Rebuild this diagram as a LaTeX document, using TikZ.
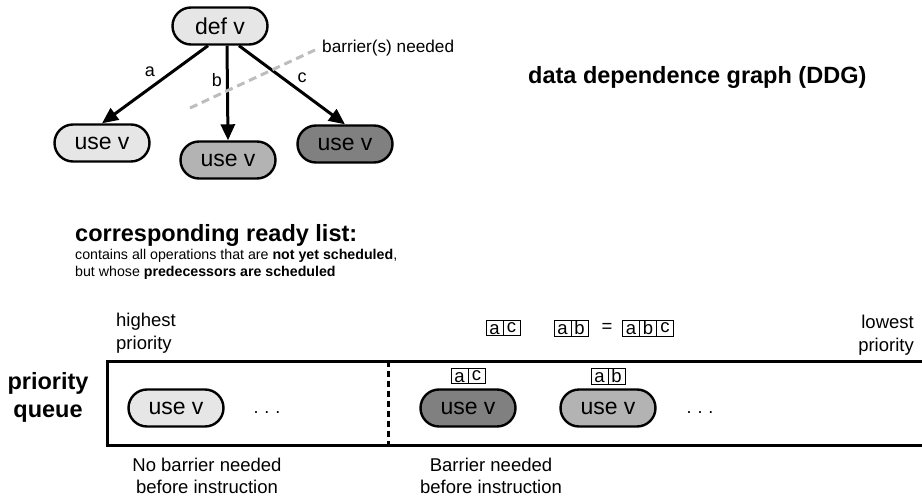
\documentclass[tikz,border=0pt]{standalone}
\usepackage{fontspec}
\setmainfont{Liberation Sans}
\usetikzlibrary{arrows.meta,shapes.misc,shapes.multipart}

\definecolor{lightfill}{HTML}{E6E6E6}
\definecolor{midfill}{HTML}{B3B3B3}
\definecolor{darkfill}{HTML}{808080}
\definecolor{barriergray}{HTML}{BDBDBD}

% one letter per cell of a tag, all cells equally wide
\newcommand{\cellchar}[1]{\makebox[10.5pt]{#1}}

\tikzset{
  pill/.style={draw, line width=2.4pt, rounded rectangle, minimum width=95pt,
    minimum height=37pt, inner sep=0pt, font=\fontsize{23}{27}\selectfont},
  dep/.style={line width=3pt, -{Triangle[length=16pt,width=14pt]}},
  edgelabel/.style={font=\fontsize{18}{21}\selectfont, inner sep=0pt},
  plain/.style={font=\fontsize{18.5}{22.5}\selectfont, inner sep=0pt},
  small/.style={font=\fontsize{14.2}{17}\selectfont, inner sep=0pt, anchor=base west},
  heading/.style={font=\fontsize{23.5}{28}\selectfont\bfseries, inner sep=0pt},
  tag/.style={draw, line width=0.6pt, rectangle split, rectangle split horizontal,
    inner xsep=3pt, inner ysep=1pt, text height=12.5pt, text depth=0.5pt,
    font=\fontsize{18.5}{20}\selectfont},
  dots/.style={font=\fontsize{18}{20}\selectfont, inner sep=0pt}
}

\begin{document}
\begin{tikzpicture}[x=1pt,y=-1pt]
\useasboundingbox (0,0) rectangle (922,498);

% data dependence graph
\node[pill, fill=lightfill] (def) at (220,26) {def v};
\node[pill, fill=lightfill] (ua) at (102,143) {use v};
\node[pill, fill=midfill]   (ub) at (228,160) {use v};
\node[pill, fill=darkfill]  (uc) at (345,144) {use v};

\draw[dep] ([xshift=-12pt]def.south) -- (ua.north);
\draw[dep] ([xshift=7pt]def.south) -- (ub.north);
\draw[dep] ([xshift=19pt]def.south) -- (uc.north);

\node[edgelabel] (la) at (150,72) {a};
\node[edgelabel] (lb) at (217,80) {b};
\node[edgelabel] (lc) at (302,78) {c};

% where barriers are required
\coordinate (bar1) at (190,108);
\coordinate (bar2) at (315,50);
\draw[barriergray, line width=3pt, dash pattern=on 8pt off 5pt] (bar1) -- (bar2);
\node[font=\fontsize{17.2}{20}\selectfont, inner sep=0pt, anchor=west] (barlbl) at (322,48) {barrier(s) needed};

\node[heading, anchor=base west] (ddg) at (528,83) {data dependence graph (DDG)};

% ready list description
\node[heading, anchor=base west] (rl) at (75,241) {corresponding ready list:};
\node[small] (rl1) at (75,259) {contains all operations that are \textbf{not yet scheduled},};
\node[small] (rl2) at (75,276) {but whose \textbf{predecessors are scheduled}};

% priority queue
\draw[line width=3pt] (935,361) -- (107,361) -- (107,445) -- (935,445);
\coordinate (sep1) at (388,361);
\coordinate (sep2) at (388,445);
\draw[line width=3pt, dash pattern=on 6pt off 4pt] (sep1) -- (sep2);

\node[heading, align=center] (pq) at (48,397) {priority\\queue};

\node[plain, align=left, anchor=west] (hi) at (116,333) {highest\\priority};
\node[plain, align=right, anchor=east] (lo) at (914,335) {lowest\\priority};

\node[pill, fill=lightfill] (q1) at (176,408) {use v};
\node[dots] (d1) at (267,413) {.\,\,.\,\,.};
\node[pill, fill=darkfill] (q2) at (468,408) {use v};
\node[pill, fill=midfill]  (q3) at (608,408) {use v};
\node[dots] (d2) at (700,413) {.\,\,.\,\,.};

\node[tag, rectangle split parts=2] (t2) at (468,376) {\cellchar{a}\nodepart{two}\cellchar{c}};
\node[tag, rectangle split parts=2] (t3) at (608,376) {\cellchar{a}\nodepart{two}\cellchar{b}};

\node[tag, rectangle split parts=2] (s1) at (503,328) {\cellchar{a}\nodepart{two}\cellchar{c}};
\node[tag, rectangle split parts=2] (s2) at (571,328) {\cellchar{a}\nodepart{two}\cellchar{b}};
\node[plain] (eq) at (607,328) {=};
\node[tag, rectangle split parts=3] (s3) at (648,328) {\cellchar{a}\nodepart{two}\cellchar{b}\nodepart{three}\cellchar{c}};

\node[plain, align=center] (nb) at (207,476) {No barrier needed\\before instruction};
\node[plain, align=center] (wb) at (491,476) {Barrier needed\\before instruction};
\end{tikzpicture}
\end{document}
